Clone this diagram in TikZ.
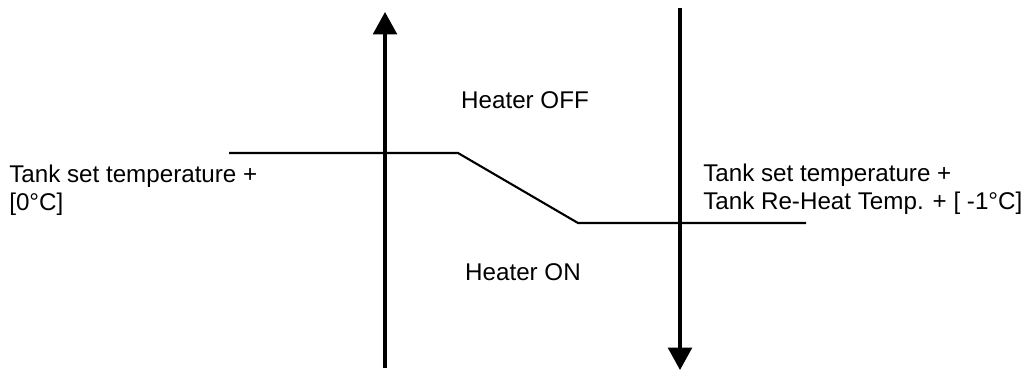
\documentclass[tikz,border=0pt]{standalone}
\usepackage{fontspec}
\setmainfont{Liberation Sans}
\usetikzlibrary{arrows.meta,positioning}

\begin{document}
\begin{tikzpicture}[x=0.025cm, y=-0.025cm,
    bigarrow/.style={line width=2.2pt, -{Triangle[length=16pt, width=17pt]}},
    setline/.style={line width=1.5pt},
    label/.style={font=\fontsize{17.2}{20}\selectfont, inner sep=0pt, align=left}
]
\useasboundingbox (0,0) rectangle (1023,373);

% arrows
\coordinate (up_start) at (385,368);
\coordinate (up_end) at (385,12);
\coordinate (down_start) at (680,8);
\coordinate (down_end) at (680,370);
\draw[bigarrow] (up_start) -- (up_end);
\draw[bigarrow] (down_start) -- (down_end);

% set temperature line
\coordinate (line_a) at (229,153);
\coordinate (line_b) at (458,153);
\coordinate (line_c) at (578,223);
\coordinate (line_d) at (806,223);
\draw[setline] (line_a) -- (line_b) -- (line_c) -- (line_d);

% labels
\node[label] (heater_off) at (525,100) {Heater OFF};
\node[label] (heater_on) at (523,272) {Heater ON};
\node[label, anchor=west] (set_left) at (9,190) {Tank set temperature +\\{}[0°C]};
\node[label, anchor=west] (set_right) at (703,189) {Tank set temperature +\\Tank Re-Heat Temp. + [ -1°C]};

\end{tikzpicture}
\end{document}
